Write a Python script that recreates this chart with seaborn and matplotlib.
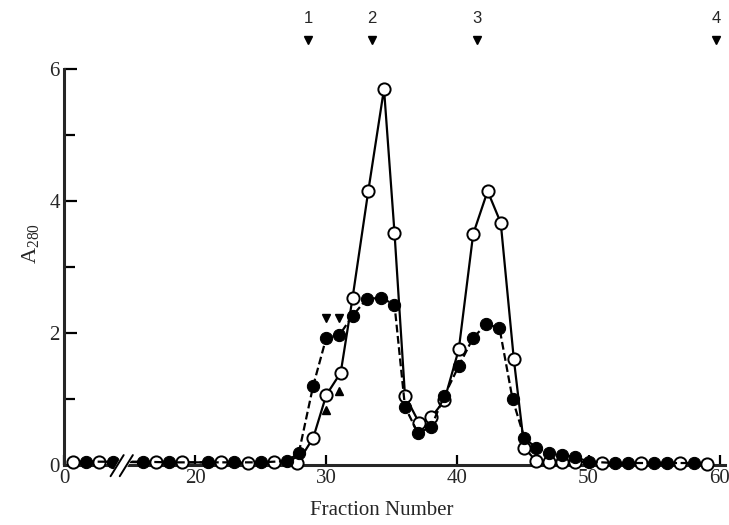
import numpy as np
import pandas as pd
import matplotlib
matplotlib.use("Agg")
import matplotlib.pyplot as plt
import matplotlib.transforms as mtransforms
import seaborn as sns

# open circles, solid line (fraction positions)
open_frac = [1, 3, 17, 19, 22, 24, 26, 27.8, 29, 30, 31.1, 32, 33.2, 34.4, 35.2, 36,
             37.1, 38, 39, 40.1, 41.2, 42.3, 43.3, 44.3, 45.1, 46, 47, 48, 49, 51,
             54, 57, 59]
open_a280 = [0.05, 0.05, 0.04, 0.04, 0.04, 0.03, 0.04, 0.03, 0.41, 1.06, 1.40, 2.53,
             4.15, 5.70, 3.52, 1.05, 0.63, 0.72, 0.98, 1.75, 3.50, 4.15, 3.67, 1.60,
             0.26, 0.06, 0.04, 0.04, 0.05, 0.03, 0.03, 0.03, 0.02]

# filled circles, dashed line
filled_frac = [2, 4, 16, 18, 21, 23, 25, 27, 27.9, 29, 30, 31, 32, 33.1, 34.2, 35.2,
               36, 37, 38, 39, 40.1, 41.2, 42.2, 43.2, 44.2, 45.1, 46, 47, 48, 49, 50,
               52, 53, 55, 56, 58]
filled_a280 = [0.05, 0.05, 0.05, 0.04, 0.04, 0.04, 0.04, 0.06, 0.18, 1.20, 1.93, 1.97,
               2.26, 2.52, 2.53, 2.43, 0.88, 0.48, 0.58, 1.05, 1.50, 1.93, 2.13, 2.08,
               1.00, 0.41, 0.26, 0.18, 0.15, 0.12, 0.05, 0.03, 0.03, 0.03, 0.03, 0.03]

# small arrowheads in the first peak
down_frac = [30, 31]
down_a280 = [2.23, 2.23]
up_frac = [30, 31]
up_a280 = [0.83, 1.12]

# numbered markers on top
top_frac = [28.6, 33.5, 41.5, 59.7]
top_labels = ["1", "2", "3", "4"]

x_ticks = [0, 20, 30, 40, 50, 60]
y_ticks = [0, 2, 4, 6]

# axis is broken: fractions below the break are shifted to sit just after the spine
break_at = 10
shift = 9.7
axis_start = 10


def pos(f):
    f = np.asarray(f, dtype=float)
    return np.where(f < break_at, f + shift, f)


sns.set_style("ticks")
plt.rcParams["font.family"] = ["Liberation Serif", "DejaVu Serif"]
plt.rcParams["mathtext.fontset"] = "custom"
plt.rcParams["mathtext.rm"] = "Liberation Serif"

fig = plt.figure(figsize=(7.29, 5.25), dpi=100)
ax = fig.add_axes([0.0878, 0.1143, 0.9067, 0.7543])

df_open = pd.DataFrame({"x": pos(open_frac), "y": open_a280})
df_fill = pd.DataFrame({"x": pos(filled_frac), "y": filled_a280})

sns.lineplot(data=df_open, x="x", y="y", ax=ax, color="black", lw=1.6,
             marker="o", ms=8.8, markerfacecolor="white", markeredgecolor="black",
             markeredgewidth=1.4, zorder=3, clip_on=False)
sns.lineplot(data=df_fill, x="x", y="y", ax=ax, color="black", lw=1.6,
             linestyle=(0, (3.5, 1.6)), marker="o", ms=8.8,
             markerfacecolor="black", markeredgecolor="black",
             zorder=4, clip_on=False)

ax.plot(pos(down_frac), down_a280, "v", color="black", ms=6, ls="none", zorder=5)
ax.plot(pos(up_frac), up_a280, "^", color="black", ms=6, ls="none", zorder=5)

ax.set_xlim(axis_start, 60.4)
ax.set_ylim(0, 6)
ax.set_xticks([axis_start if t == 0 else t for t in x_ticks])
ax.set_xticklabels([str(t) for t in x_ticks])
ax.set_yticks(y_ticks)
ax.set_yticks([1, 3, 5], minor=True)
ax.tick_params(axis="both", which="both", direction="in", width=1.6,
               labelsize=15, color="black", pad=3)
ax.tick_params(axis="y", which="major", length=9)
ax.tick_params(axis="y", which="minor", length=8)
ax.tick_params(axis="x", which="major", length=7)

for s in ["top", "right"]:
    ax.spines[s].set_visible(False)
for s in ["left", "bottom"]:
    ax.spines[s].set_linewidth(2.2)
    ax.spines[s].set_zorder(2)

ax.set_xlabel("Fraction Number", fontsize=15)
ax.xaxis.set_label_coords(0.48, -0.09)
ax.set_ylabel(r"A$\mathregular{_{280}}$", fontsize=16)
ax.yaxis.set_label_coords(-0.035, 0.56)

# axis break marks
bx = 14.4
ax.fill([bx - 0.7, bx + 0.1, bx + 0.8, bx], [-0.12, -0.12, 0.12, 0.12],
        color="white", zorder=6, clip_on=False)
for dx in (-0.35, 0.35):
    ax.plot([bx + dx - 0.5, bx + dx + 0.5], [-0.17, 0.15], color="black",
            lw=1.4, zorder=7, clip_on=False)

# numbered arrows above the plot
trans = mtransforms.blended_transform_factory(ax.transData, ax.transAxes)
ax.plot(top_frac, [1.073] * len(top_frac), "v", color="black", ms=5.5,
        transform=trans, clip_on=False)
for xv, lab in zip(top_frac, top_labels):
    ax.text(xv, 1.128, lab, transform=trans, ha="center", va="center",
            fontsize=12, family=["Liberation Sans", "DejaVu Sans"])

fig.savefig("out.png", dpi=100)
